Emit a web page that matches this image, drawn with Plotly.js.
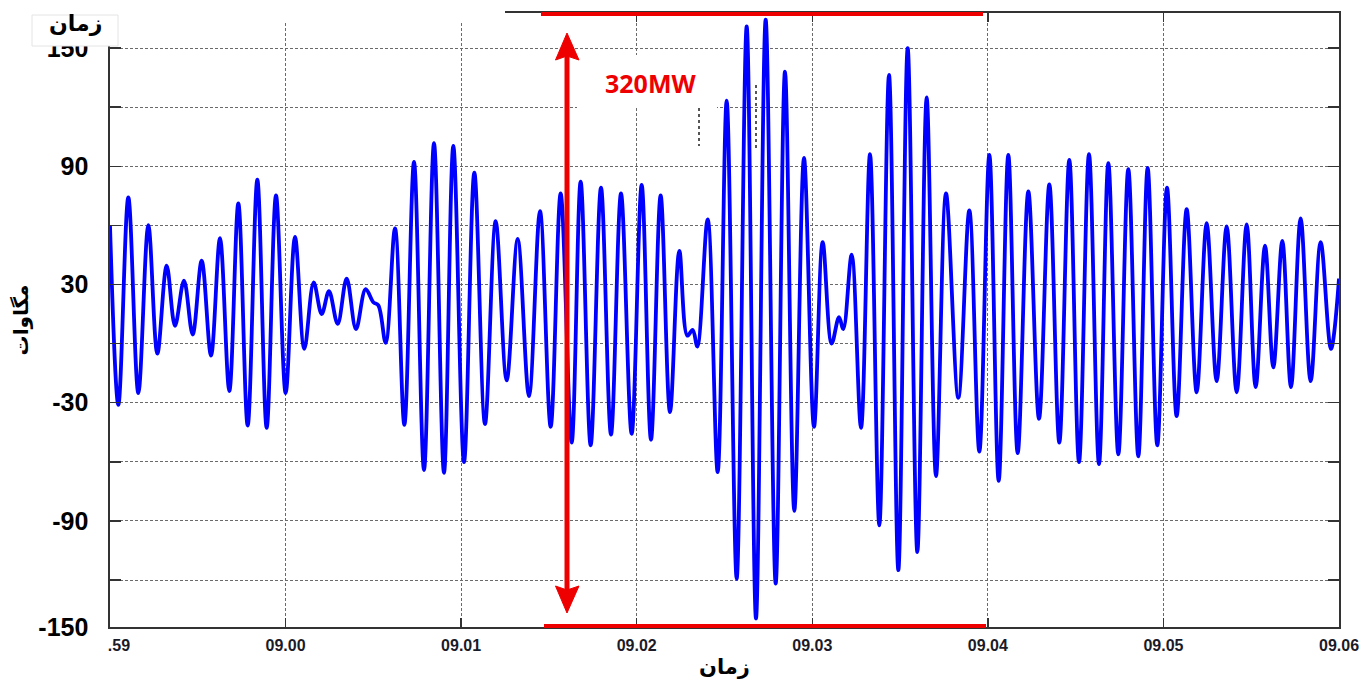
<!DOCTYPE html>
<html>
<head>
<meta charset="utf-8">
<script src="https://cdn.plot.ly/plotly-3.0.1.min.js"></script>
<style>html,body{margin:0;padding:0;background:#fff;}#chart{width:1366px;height:681px;}</style>
</head>
<body>
<div id="chart"></div>
<script>
// Time in seconds after 08:59:00 (turning points of the oscillation)
const timeSec = [
  0.00, 2.85, 6.26, 9.68, 13.10, 16.18, 19.37, 22.21, 25.29, 28.25,
  31.33, 34.52, 37.59, 40.78, 43.86, 47.05, 50.35, 53.54, 56.73, 60.03,
  63.22, 66.41, 69.60, 72.34, 74.84, 77.80, 80.88, 84.07, 87.37, 89.99,
  91.70, 94.21, 97.40, 100.59, 103.89, 107.31, 110.72, 114.14, 117.33, 120.98,
  124.51, 128.15, 131.80, 135.56, 139.32, 143.19, 146.95, 150.59, 154.01, 157.77,
  160.84, 164.26, 167.79, 171.21, 174.63, 178.27, 181.69, 184.88, 188.18, 191.37,
  194.56, 197.30, 199.12, 200.71, 204.25, 207.66, 210.74, 214.16, 217.58, 220.76,
  224.07, 227.49, 230.67, 233.86, 237.17, 240.59, 243.55, 246.62, 249.13, 250.61,
  253.46, 256.65, 259.72, 262.91, 266.22, 269.41, 272.60, 275.90, 279.09, 282.28,
  285.70, 289.91, 293.67, 297.09, 300.51, 303.70, 306.99, 310.19, 313.83, 317.48,
  321.01, 324.42, 327.84, 331.15, 334.56, 337.98, 341.17, 344.59, 348.00, 351.42,
  354.61, 357.91, 361.22, 364.52, 367.94, 371.36, 374.77, 378.19, 381.61, 385.03,
  388.45, 391.52, 394.71, 397.56, 400.63, 403.59, 406.89, 410.31, 413.73, 417.26,
  420.00
];
// Power in MW
const powerMW = [
  60.1, -31.1, 74.2, -25.1, 60.1, -5.1, 39.5, 9.0, 32.0, 4.6,
  42.1, -6.1, 53.5, -24.1, 71.2, -41.6, 83.2, -42.8, 75.2, -25.1,
  54.1, -2.7, 31.0, 15.0, 26.6, 10.0, 33.0, 7.4, 27.6, 21.0,
  19.4, 0.4, 58.5, -41.2, 92.2, -64.2, 101.7, -65.6, 100.3, -60.2,
  86.8, -40.8, 62.1, -18.7, 53.1, -26.7, 67.2, -42.2, 76.2, -50.2,
  82.2, -51.6, 79.2, -46.2, 76.2, -45.8, 80.6, -48.8, 75.2, -34.8,
  47.1, 4.0, 7.0, -1.5, 63.1, -65.2, 123.3, -119.4, 161.0, -139.5,
  164.4, -121.8, 138.0, -84.9, 94.2, -42.2, 51.5, 0.0, 13.4, 7.4,
  45.1, -42.8, 96.2, -92.3, 136.4, -115.0, 150.0, -105.8, 124.9, -67.2,
  76.2, -27.5, 67.6, -54.8, 95.8, -69.7, 95.8, -55.6, 77.2, -38.2,
  80.8, -50.2, 93.2, -60.2, 96.2, -61.2, 91.6, -56.2, 88.6, -57.2,
  89.2, -51.6, 79.2, -36.8, 68.2, -24.7, 61.1, -19.1, 59.5, -24.7,
  60.5, -22.1, 49.7, -12.1, 52.1, -22.1, 63.5, -19.1, 51.5, -2.7,
  33.0
];
const xTickVals = [0, 60, 120, 180, 240, 300, 360, 420];
const xTickText = ['\u2007\u2007.59', '09.00', '09.01', '09.02', '09.03', '09.04', '09.05', '09.06'];
const yTickVals = [-143.85, -120, -90, -60, -30, 0, 30, 60, 90, 120, 150];
const yTickText = ['-150', '', '-90', '', '-30', '', '30', '', '90', '', '150'];
const swingLabel = '320MW';
const xTitle = 'زمان';
const yTitle = 'مگاوات';

// pixel -> paper helpers (plot area 110..1339 x 13..627)
const L = 110, R = 1339, T = 13, B = 627;
const PX = p => (p - L) / (R - L);
const PY = p => (B - p) / (B - T);
const RED = '#ee0000';

const trace = {
  x: timeSec, y: powerMW, type: 'scatter', mode: 'lines',
  line: {color: '#0000ff', width: 3.8, shape: 'spline', smoothing: 1},
  hoverinfo: 'x+y'
};

function rect(x0, y0, x1, y1, fill, lineColor, lw) {
  return {type: 'rect', xref: 'paper', yref: 'paper', layer: 'above',
    x0: PX(x0), x1: PX(x1), y0: PY(y1), y1: PY(y0),
    fillcolor: fill, line: {color: lineColor || 'rgba(0,0,0,0)', width: lw || 0}};
}
function seg(x0, y0, x1, y1, color, w, dash) {
  return {type: 'line', xref: 'paper', yref: 'paper', layer: 'above',
    x0: PX(x0), y0: PY(y0), x1: PX(x1), y1: PY(y1),
    line: {color: color, width: w, dash: dash || 'solid'}};
}
function tri(pts, color) {
  const d = 'M ' + pts.map(p => PX(p[0]) + ',' + PY(p[1])).join(' L ') + ' Z';
  return {type: 'path', xref: 'paper', yref: 'paper', layer: 'above', path: d,
    fillcolor: color, line: {color: color, width: 1}};
}

const shapes = [
  rect(0, 0, 505, 22, '#ffffff'),
  rect(32, 15, 118, 46, '#ffffff', '#e4e4e4', 1),
  rect(577, 55, 717, 108, '#ffffff'),
  seg(541, 14, 983, 14, RED, 4),
  seg(544, 626, 986, 626, RED, 4),
  seg(567, 55, 567, 590, RED, 5),
  tri([[567, 33], [555.5, 60], [567, 56], [579, 60]], RED),
  tri([[567, 613], [555.5, 586], [567, 590], [579, 586]], RED),
  seg(699, 108, 699, 146, '#555555', 2, 'dot'),
  seg(756, 85, 756, 148, '#555555', 2, 'dot')
];

const annotations = [
  {xref: 'paper', yref: 'paper', x: PX(650), y: PY(83), xanchor: 'center', yanchor: 'middle',
   text: swingLabel, showarrow: false,
   font: {family: 'Open Sans, sans-serif', size: 25, color: RED, weight: 'bold'}},
  {xref: 'paper', yref: 'paper', x: PX(75), y: PY(23), xanchor: 'center', yanchor: 'middle',
   text: xTitle, showarrow: false,
   font: {family: 'DejaVu Sans, sans-serif', size: 22, color: '#000', weight: 'bold'}}
];

const gridCol = '#6a6a6a';
const layout = {
  width: 1366, height: 681,
  margin: {l: 110, r: 27, t: 13, b: 54, pad: 0},
  paper_bgcolor: '#ffffff', plot_bgcolor: '#ffffff',
  showlegend: false,
  font: {family: 'Liberation Sans, Arial, sans-serif', color: '#000'},
  xaxis: {
    range: [0, 420], tickmode: 'array', tickvals: xTickVals, ticktext: xTickText,
    showgrid: true, gridcolor: gridCol, gridwidth: 1, griddash: '3px,2px',
    zeroline: false, showline: true, linecolor: '#333', linewidth: 1.6, mirror: 'ticks',
    ticks: 'inside', ticklen: 9, tickwidth: 1.5, tickcolor: '#333',
    ticklabelstandoff: 3,
    tickfont: {family: 'Liberation Sans, Arial, sans-serif', size: 16, color: '#1b1b28', weight: 'bold'},
    title: {text: xTitle, standoff: 6,
      font: {family: 'DejaVu Sans, sans-serif', size: 21, color: '#000', weight: 'bold'}}
  },
  yaxis: {
    range: [-143.85, 167.8], tickmode: 'array', tickvals: yTickVals, ticktext: yTickText,
    showgrid: true, gridcolor: gridCol, gridwidth: 1, griddash: '3px,2px',
    zeroline: false, showline: true, linecolor: '#333', linewidth: 1.6, mirror: 'ticks',
    ticks: 'inside', ticklen: 11, tickwidth: 1.5, tickcolor: '#333',
    ticklabelstandoff: 15,
    tickfont: {family: 'Liberation Sans, Arial, sans-serif', size: 25, color: '#000', weight: 'bold'},
    title: {text: yTitle, standoff: 4,
      font: {family: 'DejaVu Sans, sans-serif', size: 20, color: '#000', weight: 'bold'}}
  },
  shapes: shapes,
  annotations: annotations
};

Plotly.newPlot('chart', [trace], layout, {staticPlot: true, displayModeBar: false});
</script>
</body>
</html>
